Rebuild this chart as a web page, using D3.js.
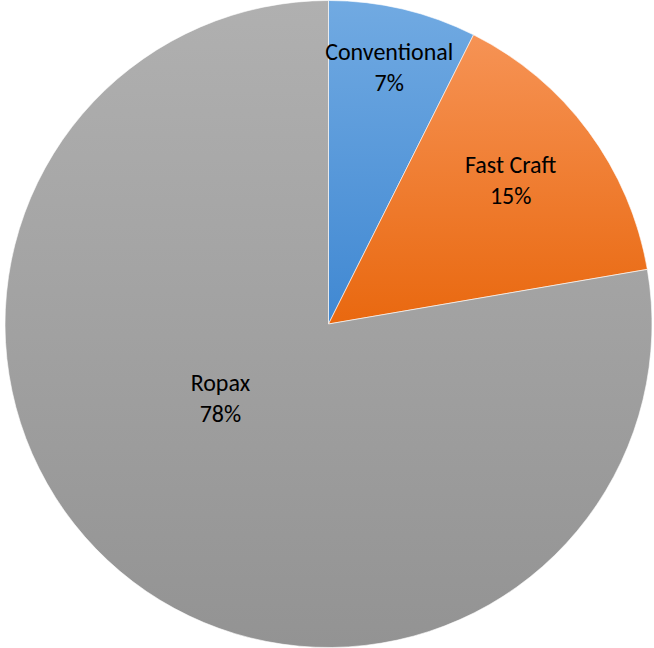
<!DOCTYPE html>
<html><head><meta charset="utf-8">
<script src="https://cdn.jsdelivr.net/npm/d3@7/dist/d3.min.js"></script>
<style>html,body{margin:0;padding:0;background:#fff;}svg{display:block;}</style>
</head><body>
<svg id="chart" width="654" height="648"></svg>
<script>
const categories = ["Conventional", "Fast Craft", "Ropax"];
const values = [7.4, 14.9, 77.7];
const colorsTop = ["#71AAE2", "#F69355", "#B0B0B0"];
const colorsBottom = ["#4088D2", "#E9680F", "#939393"];

const cx = 328.5, cy = 324, R = 323.5;
const svg = d3.select("#chart");
const defs = svg.append("defs");
categories.forEach((c, i) => {
  const g = defs.append("linearGradient").attr("id", "g" + i)
    .attr("x1", 0).attr("y1", 0).attr("x2", 0).attr("y2", 1);
  g.append("stop").attr("offset", "0").attr("stop-color", colorsTop[i]);
  g.append("stop").attr("offset", "1").attr("stop-color", colorsBottom[i]);
});

const pie = d3.pie().sort(null).value(d => d);
const arcs = pie(values);
const arc = d3.arc().innerRadius(0).outerRadius(R);
const total = d3.sum(values);

const g = svg.append("g").attr("transform", `translate(${cx},${cy})`);
g.selectAll("path").data(arcs).enter().append("path")
  .attr("d", arc)
  .attr("fill", (d, i) => `url(#g${i})`)
  .attr("stroke", "#fff").attr("stroke-width", 0.6);

const labelRadius = [0.815, 0.717, 0.405];
const labelAngleShift = [0, -0.03, 0.27];
const fmt = d3.format(".0%");
arcs.forEach((d, i) => {
  const a = (d.startAngle + d.endAngle) / 2 + labelAngleShift[i];
  const [x, y] = d3.pointRadial(a, R * labelRadius[i]);
  const t = g.append("text").attr("text-anchor", "middle")
    .attr("font-family", "Carlito, Lato, 'Open Sans', sans-serif")
    .attr("font-size", 24).attr("fill", "#000");
  t.append("tspan").attr("x", x).attr("y", y - 7).text(categories[i]);
  t.append("tspan").attr("x", x).attr("y", y + 24).text(fmt(d.data / total));
});
</script>
</body></html>
